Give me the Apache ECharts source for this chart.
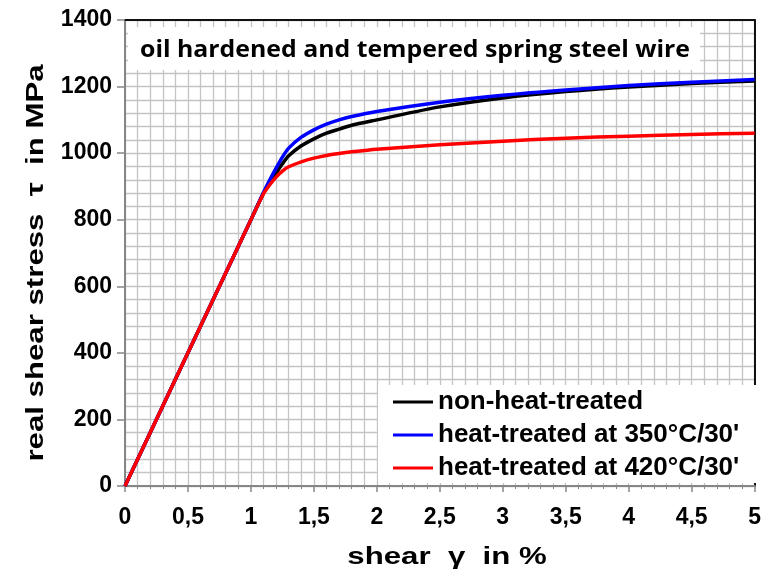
<!DOCTYPE html>
<html>
<head>
<meta charset="utf-8">
<script src="https://cdn.jsdelivr.net/npm/echarts@6/dist/echarts.min.js"></script>
<style>
  html, body { margin: 0; padding: 0; background: #fff; }
  #chart { width: 764px; height: 576px; }
</style>
</head>
<body>
<div id="chart"></div>
<script>
// shear strain in %
const gamma = [0, 0.5, 1.0, 1.1, 1.15, 1.2, 1.25, 1.3, 1.4, 1.5, 1.6, 1.7, 1.8, 2.0, 2.5, 3.0, 3.5, 4.0, 4.5, 5.0];
// real shear stress in MPa
const tauNonTreated = [0, 400, 800, 880, 912, 940, 968, 992, 1022, 1043, 1060, 1072, 1084, 1100, 1139, 1166, 1185, 1199, 1209, 1217];
const tau350 = [0, 400, 800, 882, 920, 955, 988, 1015, 1048, 1070, 1087, 1100, 1110, 1125, 1153, 1174, 1190, 1203, 1213, 1221];
const tau420 = [0, 400, 800, 878, 905, 928, 946, 959, 974, 985, 993, 999, 1004, 1012, 1025, 1036, 1045, 1051, 1056, 1060];

const seriesNames = ['non-heat-treated', 'heat-treated at 350°C/30\'', 'heat-treated at 420°C/30\''];
const seriesColors = ['#000000', '#0000ff', '#ff0000'];
const seriesValues = [tauNonTreated, tau350, tau420];

const xTicks = { min: 0, max: 5, interval: 0.5 };
const yTicks = { min: 0, max: 1400, interval: 200 };

const titleText = 'oil hardened and tempered spring steel wire';
const xTitle = 'shear  γ  in %';
const yTitle = 'real shear stress  τ  in MPa';

const FONT = '"Liberation Sans", Arial, sans-serif';
const TITLE_FONT = 'bold 24px "Open Sans", Lato, sans-serif';
const GRID_COLOR = '#c4c4c4';
const AXIS_COLOR = '#868686';

// horizontal stretch so the heading fills its white panel
function stretchFor(text, font, width) {
  const ctx = document.createElement('canvas').getContext('2d');
  ctx.font = font;
  return width / ctx.measureText(text).width;
}

const chart = echarts.init(document.getElementById('chart'), null, { renderer: 'canvas' });

const series = seriesNames.map((name, i) => ({
  name,
  type: 'line',
  data: gamma.map((g, k) => [g, seriesValues[i][k]]),
  showSymbol: false,
  symbol: 'none',
  smooth: 0.25,
  lineStyle: { color: seriesColors[i], width: 3.5 },
  itemStyle: { color: seriesColors[i] },
  z: 3 + i,
  animation: false
}));

chart.setOption({
  animation: false,
  backgroundColor: '#ffffff',
  grid: { left: 125, top: 20, right: 7, bottom: 90, containLabel: false },
  xAxis: [
    {
      type: 'value',
      min: xTicks.min, max: xTicks.max, interval: xTicks.interval,
      axisLine: { show: true, onZero: false, lineStyle: { color: AXIS_COLOR, width: 2 } },
      axisTick: { show: true, length: 6, lineStyle: { color: AXIS_COLOR, width: 1.5 } },
      minorTick: { show: true, splitNumber: 5, length: 3, lineStyle: { color: AXIS_COLOR, width: 1 } },
      splitLine: { show: true, lineStyle: { color: GRID_COLOR, width: 1.3 } },
      minorSplitLine: { show: true, lineStyle: { color: GRID_COLOR, width: 1.3 } },
      axisLabel: {
        margin: 20,
        fontFamily: FONT, fontWeight: 'bold', fontSize: 23, color: '#000',
        formatter: v => String(v).replace('.', ',')
      }
    },
    {
      type: 'value', position: 'top',
      min: xTicks.min, max: xTicks.max, interval: xTicks.interval,
      axisLine: { show: true, onZero: false, lineStyle: { color: '#111', width: 2 } },
      axisTick: { show: false }, axisLabel: { show: false }, splitLine: { show: false }
    }
  ],
  yAxis: [
    {
      type: 'value',
      min: yTicks.min, max: yTicks.max, interval: yTicks.interval,
      axisLine: { show: true, onZero: false, lineStyle: { color: AXIS_COLOR, width: 2 } },
      axisTick: { show: true, length: 8, lineStyle: { color: AXIS_COLOR, width: 1.5 } },
      minorTick: { show: false, splitNumber: 5 },
      splitLine: { show: true, lineStyle: { color: GRID_COLOR, width: 1.3 } },
      minorSplitLine: { show: true, lineStyle: { color: GRID_COLOR, width: 1.3 } },
      axisLabel: {
        margin: 13, fontFamily: FONT, fontWeight: 'bold', fontSize: 23, color: '#000',
        formatter: v => String(v)
      }
    },
    {
      type: 'value', position: 'right',
      min: yTicks.min, max: yTicks.max, interval: yTicks.interval,
      axisLine: { show: true, onZero: false, lineStyle: { color: '#111', width: 2 } },
      axisTick: { show: false }, axisLabel: { show: false }, splitLine: { show: false }
    }
  ],
  legend: {
    orient: 'vertical',
    left: 393, top: 389,
    padding: 0,
    itemGap: 7,
    itemWidth: 40, itemHeight: 3,
    icon: 'rect',
    data: seriesNames,
    textStyle: { fontFamily: FONT, fontWeight: 'bold', fontSize: 26, lineHeight: 25, color: '#000' },
    z: 10
  },
  graphic: [
    // white panel behind the title
    { type: 'rect', shape: { x: 128, y: 27, width: 572, height: 43 }, style: { fill: '#ffffff' }, z: 1 },
    {
      type: 'text', x: 415, y: 50, z: 2,
      scaleX: stretchFor(titleText, TITLE_FONT, 550),
      style: {
        text: titleText, fill: '#000',
        font: TITLE_FONT,
        align: 'center', verticalAlign: 'middle'
      }
    },
    // white panel behind the legend
    { type: 'rect', shape: { x: 378, y: 385, width: 379, height: 98 }, style: { fill: '#ffffff' }, z: 1 },
    // axis titles
    {
      type: 'text', x: 447, y: 557, z: 2, scaleX: 1.3,
      style: {
        text: xTitle, fill: '#000',
        font: 'bold 24px "Liberation Sans", Arial, sans-serif',
        align: 'center', verticalAlign: 'middle'
      }
    },
    {
      type: 'text', x: 36, y: 263, z: 2, rotation: Math.PI / 2, scaleX: 1.3,
      style: {
        text: yTitle, fill: '#000',
        font: 'bold 24px "Liberation Sans", Arial, sans-serif',
        align: 'center', verticalAlign: 'middle'
      }
    }
  ],
  series
});
</script>
</body>
</html>
